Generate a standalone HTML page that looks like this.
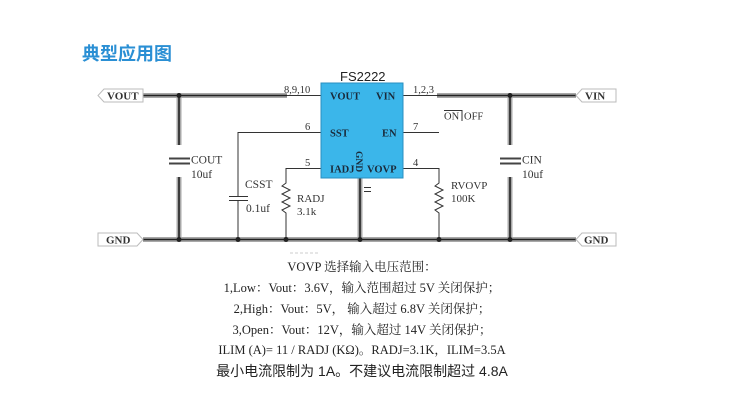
<!DOCTYPE html>
<html><head><meta charset="utf-8"><style>
html,body{margin:0;padding:0;background:#fff;}
body{width:731px;height:411px;overflow:hidden;position:relative;}
svg{position:absolute;left:0;top:0;}
.s{font-family:"Liberation Serif","Noto Serif CJK SC",serif;}
</style></head><body>
<svg width="731" height="411" viewBox="0 0 731 411" xmlns="http://www.w3.org/2000/svg">
<text x="82" y="60" font-family="Liberation Sans,'Noto Sans CJK SC',sans-serif" font-size="18" font-weight="bold" fill="#2a8fd4">典型应用图</text>

<g fill="none" stroke-linecap="butt">
<!-- thick bus lines: halo then core -->
<g stroke="#a8a8a8" stroke-width="5">
<path d="M143 95.5H287M437 95.5H576M143 239.5H576M179 95V145M179 177V239M510 95V145M510 177V239M360 178V239"/>
</g>
<g stroke="#222" stroke-width="1.6">
<path d="M143 95.5H287M437 95.5H576M143 239.5H576M179 95V145M179 177V239M510 95V145M510 177V239M360 178V239"/>
</g>
<g stroke="#333" stroke-width="1">
<path d="M287 95.5H321M403 95.5H437"/>
<path d="M321 132.5H238V196M238 200V239"/>
<path d="M321 168.5H286V183l-4 3l8 4l-8 4l8 4l-8 4l8 4l-8 4l4 3V239"/>
<path d="M403 132.5H439"/>
<path d="M403 168.5H439V183l-4 3l8 4l-8 4l8 4l-8 4l8 4l-8 4l4 3V239"/>
<path d="M444 110.5H462V120.5M462 110.5"/>
<path d="M462 120.5V110.5"/>
<path d="M229 196.5H248M229 200.5H248"/>
<path d="M364 187.5H371M364 191.5H371"/>
</g>
<g stroke="#444" stroke-width="2">
<path d="M169 158.5H190M169 163.5H190M500 158.5H521M500 163.5H521"/>
</g>
</g>
<g fill="#222">
<circle cx="179" cy="95.5" r="2.5"/><circle cx="510" cy="95.5" r="2.5"/>
<circle cx="179" cy="239.5" r="2.5"/><circle cx="238" cy="239.5" r="2.5"/>
<circle cx="286" cy="239.5" r="2.5"/><circle cx="360" cy="239.5" r="2.5"/>
<circle cx="439" cy="239.5" r="2.5"/><circle cx="510" cy="239.5" r="2.5"/>
</g>
<!-- port tags -->
<g fill="#fff" stroke="#bbb" stroke-width="1">
<path d="M104 89H143V102H104L98 95.5Z"/>
<path d="M98 233H137L143 239.5L137 246H98Z"/>
<path d="M582 89H616V102H582L576 95.5Z"/>
<path d="M582 233H616V246H582L576 239.5Z"/>
</g>
<g class="s" font-size="11" font-weight="bold" fill="#333">
<text x="107" y="99.5">VOUT</text>
<text x="106" y="243.5">GND</text>
<text x="585" y="99.5">VIN</text>
<text x="584" y="243.5">GND</text>
</g>
<!-- chip -->
<rect x="321" y="83" width="82" height="95" fill="#3bb6ea" stroke="#2a8fc0" stroke-width="1"/>
<text x="340" y="81" font-family="Liberation Sans,sans-serif" font-size="13" fill="#222">FS2222</text>
<g class="s" font-size="10.5" font-weight="bold" fill="#1a2a3a">
<text x="330" y="99.5">VOUT</text>
<text x="376" y="99.5">VIN</text>
<text x="330" y="136.5">SST</text>
<text x="382" y="136.5">EN</text>
<text x="330" y="172.5">IADJ</text>
<text x="367" y="172.5">VOVP</text>
<text transform="translate(356,151) rotate(90)" font-size="9.5">GND</text>
</g>
<g class="s" font-size="10.5" fill="#333">
<text x="284" y="93">8,9,10</text>
<text x="413" y="93">1,2,3</text>
<text x="305" y="130">6</text>
<text x="305" y="166">5</text>
<text x="413" y="130">7</text>
<text x="413" y="166">4</text>
<text x="444" y="119.5">ON</text>
<text x="464" y="119.5">OFF</text>
<text x="191" y="163.5" font-size="11.5">COUT</text>
<text x="191" y="178" font-size="11.5">10uf</text>
<text x="245" y="188" font-size="11.5">CSST</text>
<text x="246" y="212" font-size="11.5">0.1uf</text>
<text x="297" y="202" font-size="11">RADJ</text>
<text x="297" y="215" font-size="11">3.1k</text>
<text x="451" y="189" font-size="11">RVOVP</text>
<text x="451" y="202" font-size="11">100K</text>
<text x="522" y="163.5" font-size="11.5">CIN</text>
<text x="522" y="178" font-size="11.5">10uf</text>
</g>
<path d="M444 110.5H462V121" stroke="#333" fill="none"/>
<path d="M290 253H318" stroke="#ccc" stroke-dasharray="3,2"/>
<g class="s" font-size="12.5" fill="#222" text-anchor="middle">
<text x="362" y="271">VOVP 选择输入电压范围：</text>
<text x="362" y="292">1,Low：Vout：3.6V，输入范围超过 5V 关闭保护；</text>
<text x="362" y="313">2,High：Vout：5V，  输入超过 6.8V 关闭保护；</text>
<text x="362" y="334">3,Open：Vout：12V，输入超过 14V 关闭保护；</text>
<text x="362" y="354">ILIM (A)= 11 / RADJ (KΩ)。RADJ=3.1K，ILIM=3.5A</text>
<text x="362" y="376" font-family="Liberation Sans,'Noto Sans CJK SC',sans-serif" font-size="14">最小电流限制为 1A。不建议电流限制超过 4.8A</text>
</g>
</svg>
</body></html>
